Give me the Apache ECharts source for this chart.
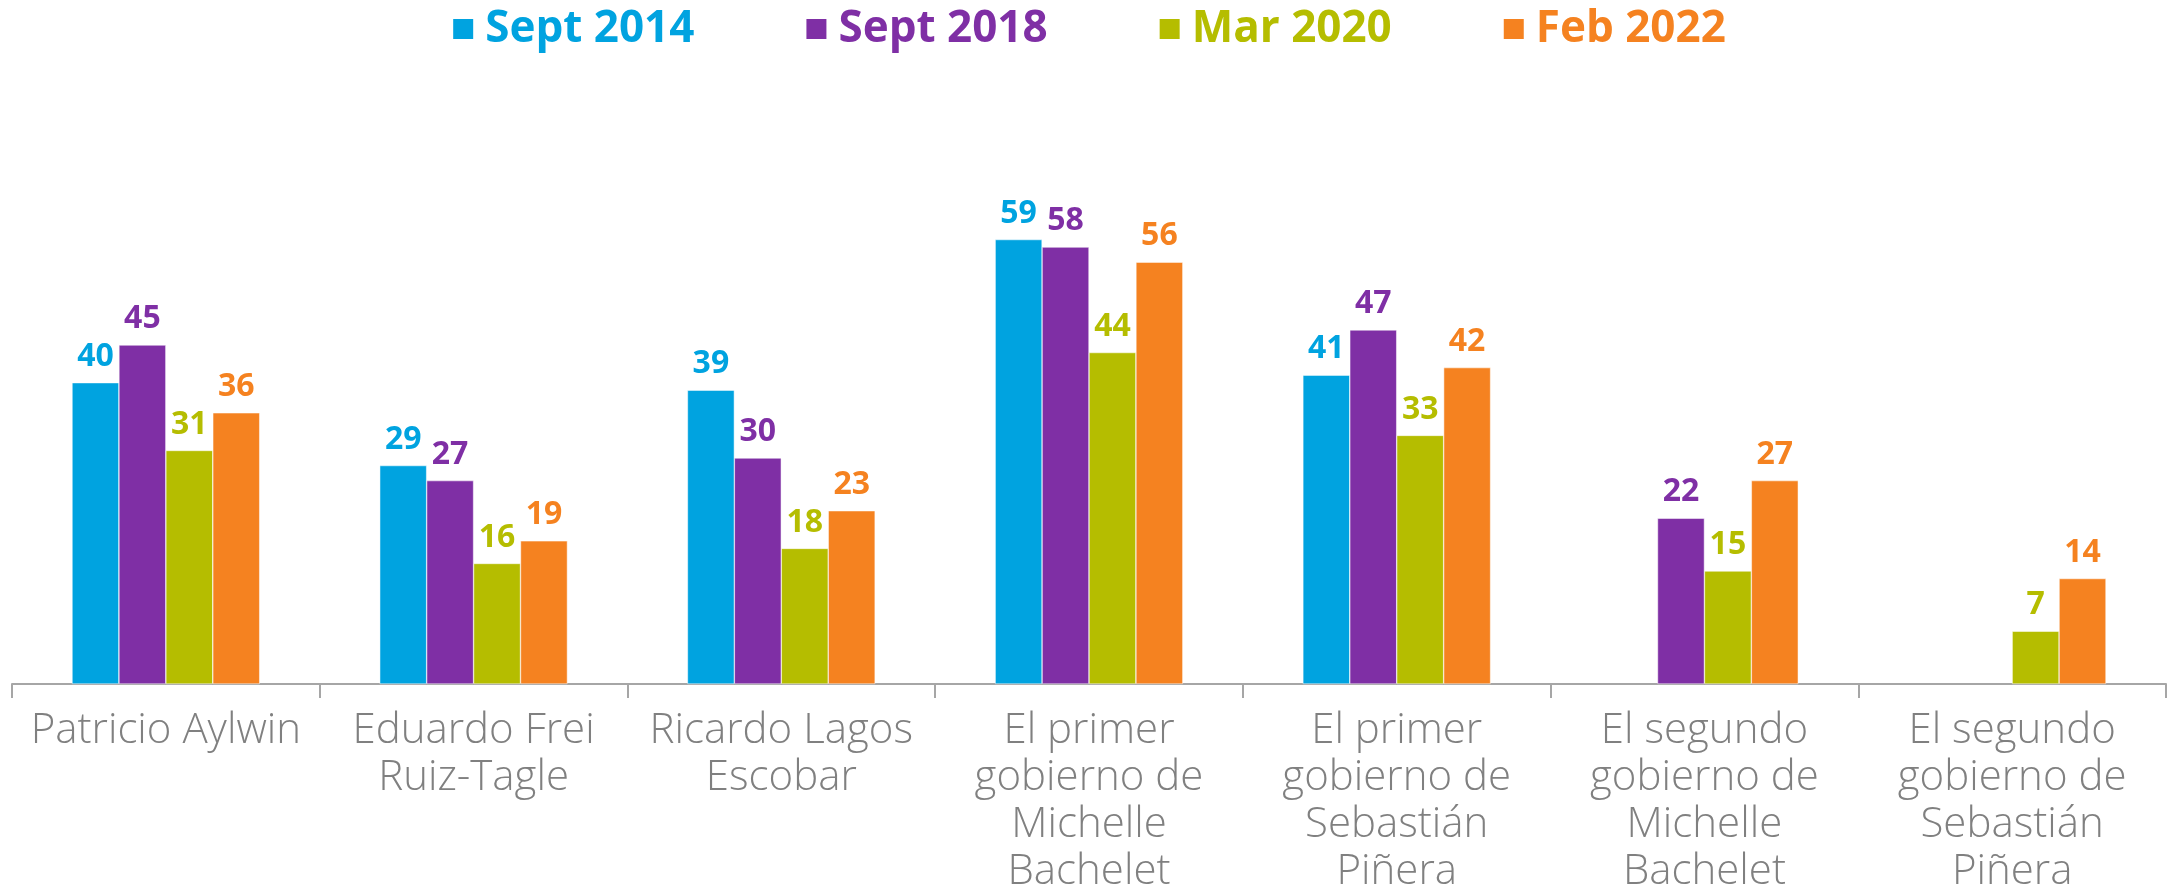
<!DOCTYPE html>
<html>
<head>
<meta charset="utf-8">
<script src="https://cdn.jsdelivr.net/npm/echarts@6/dist/echarts.min.js"></script>
<style>
  html, body { margin: 0; padding: 0; background: #fff; }
  #chart { width: 2177px; height: 886px; }
</style>
</head>
<body>
<div id="chart"></div>
<script>
'use strict';

var categories = [
    'Patricio Aylwin',
    'Eduardo Frei\nRuiz-Tagle',
    'Ricardo Lagos\nEscobar',
    'El primer\ngobierno de\nMichelle\nBachelet',
    'El primer\ngobierno de\nSebastián\nPiñera',
    'El segundo\ngobierno de\nMichelle\nBachelet',
    'El segundo\ngobierno de\nSebastián\nPiñera'
];
var seriesNames = ['Sept 2014', 'Sept 2018', 'Mar 2020', 'Feb 2022'];
var sept2014 = [40, 29, 39, 59, 41, '-', '-'];
var sept2018 = [45, 27, 30, 58, 47, 22, '-'];
var mar2020 = [31, 16, 18, 44, 33, 15, 7];
var feb2022 = [36, 19, 23, 56, 42, 27, 14];
var colors = ['#00A3E0', '#7F2FA5', '#B5BD00', '#F58220'];

var fontFam = '"Open Sans", Lato, sans-serif';

function makeSeries(name, data, color){
    return {
        name: name,
        type: 'bar',
        data: data,
        barGap: '0%',
        barCategoryGap: '39%',
        itemStyle: { color: color, borderColor: '#ffffff', borderWidth: 0.5 },
        label: {
            show: true,
            position: 'top',
            distance: 10,
            color: color,
            fontFamily: fontFam,
            fontWeight: 'bold',
            fontSize: 32
        }
    };
}

var option = {
    animation: false,
    backgroundColor: '#ffffff',
    color: colors,
    legend: {
        top: 2,
        left: 'center',
        itemWidth: 22,
        itemHeight: 22,
        itemGap: 110,
        icon: 'rect',
        data: seriesNames.map(function(n, i){
            return { name: n, textStyle: { color: colors[i] } };
        }),
        textStyle: {
            fontFamily: fontFam,
            fontWeight: 'bold',
            fontSize: 44,
            padding: [0, 0, 0, 6]
        }
    },
    grid: {
        left: 12,
        right: 11,
        top: 232,
        bottom: 202,
        outerBoundsMode: 'none',
        containLabel: false
    },
    xAxis: {
        type: 'category',
        data: categories,
        axisLine: { lineStyle: { color: '#A6A6A6', width: 2 } },
        axisTick: { show: true, length: 14, lineStyle: { color: '#A6A6A6', width: 2 } },
        axisLabel: {
            interval: 0,
            margin: 24,
            color: '#808080',
            fontFamily: fontFam,
            fontWeight: 300,
            fontSize: 42,
            lineHeight: 47
        }
    },
    yAxis: {
        type: 'value',
        min: 0,
        max: 60,
        show: false,
        splitLine: { show: false }
    },
    series: [
        makeSeries(seriesNames[0], sept2014, colors[0]),
        makeSeries(seriesNames[1], sept2018, colors[1]),
        makeSeries(seriesNames[2], mar2020, colors[2]),
        makeSeries(seriesNames[3], feb2022, colors[3])
    ]
};

var myChart = echarts.init(document.getElementById('chart'));
myChart.setOption(option);
</script>
</body>
</html>
